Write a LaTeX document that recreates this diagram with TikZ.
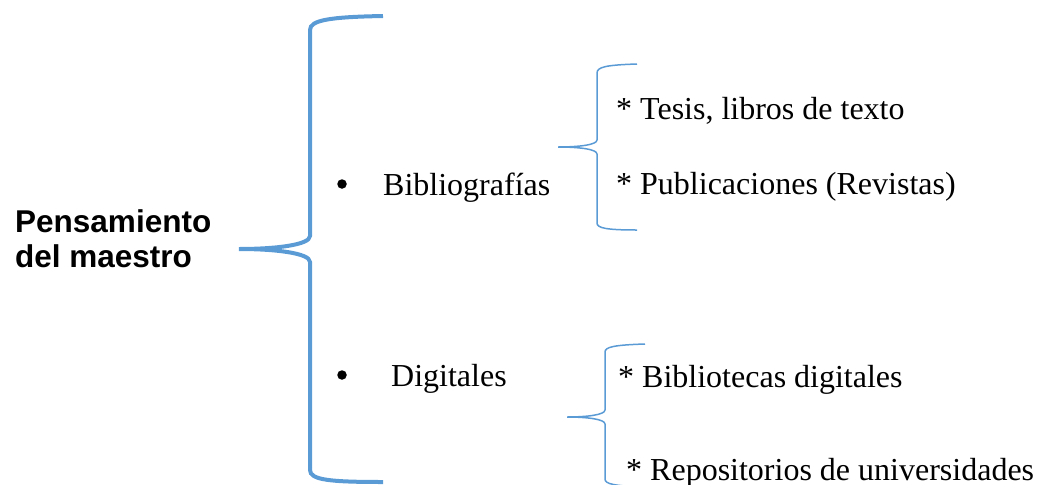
\documentclass[tikz,border=0pt]{standalone}
\usepackage{fontspec}
\setmainfont{Liberation Serif}
\setsansfont{Liberation Sans}
\definecolor{braceblue}{RGB}{91,155,213}
\begin{document}
\begin{tikzpicture}[x=1pt,y=-1pt,
  txt/.style={anchor=base west,inner sep=0pt,font=\fontsize{32}{38}\selectfont},
  ttl/.style={anchor=base west,inner sep=0pt,align=left,font=\fontsize{31.5}{35}\selectfont\sffamily\bfseries},
  bigbrace/.style={draw=braceblue,line width=4pt},
  smallbrace/.style={draw=braceblue,line width=1.5pt},
  dot/.style={circle,fill=black,inner sep=0pt,minimum size=9.5pt}]
\useasboundingbox (0,0) rectangle (1037,485);
\clip (0,0) rectangle (1037,485);
% title
\node[ttl] (title) at (15,267) {Pensamiento\\del maestro};
% big brace
\coordinate (bigtip) at (239,249);
\draw[bigbrace] (383,16) .. controls (330,17) and (310,20) .. (310,30) -- (310,236)
  .. controls (310,245) and (275,249) .. (bigtip)
  .. controls (275,249) and (310,253) .. (310,262) -- (310,470)
  .. controls (310,480) and (330,482) .. (383,482);
% bullets and items
\node[dot] (b1) at (342,184) {};
\node[txt] (biblio) at (383,195) {Bibliografías};
\node[dot] (b2) at (342,375) {};
\node[txt] (digit) at (391,386) {Digitales};
% small brace 1
\coordinate (tip1) at (558,147);
\draw[smallbrace] (637,64) .. controls (606,65) and (597,67) .. (597,73) -- (597,140)
  .. controls (597,145) and (578,147) .. (tip1)
  .. controls (578,147) and (597,149) .. (597,154) -- (597,223)
  .. controls (597,228) and (606,230) .. (637,230);
\node[txt] (tesis) at (616,119) {* Tesis, libros de texto};
\node[txt] (publ) at (616,194) {* Publicaciones (Revistas)};
% small brace 2
\coordinate (tip2) at (567,417);
\draw[smallbrace] (645,344) .. controls (614,345) and (605,347) .. (605,352) -- (605,410)
  .. controls (605,415) and (586,417) .. (tip2)
  .. controls (586,417) and (605,419) .. (605,424) -- (605,479)
  .. controls (605,484) and (614,486) .. (645,487);
\node[txt] (bibdig) at (618,387) {* Bibliotecas digitales};
\node[txt] (repos) at (626,480) {* Repositorios de universidades};
\end{tikzpicture}
\end{document}
